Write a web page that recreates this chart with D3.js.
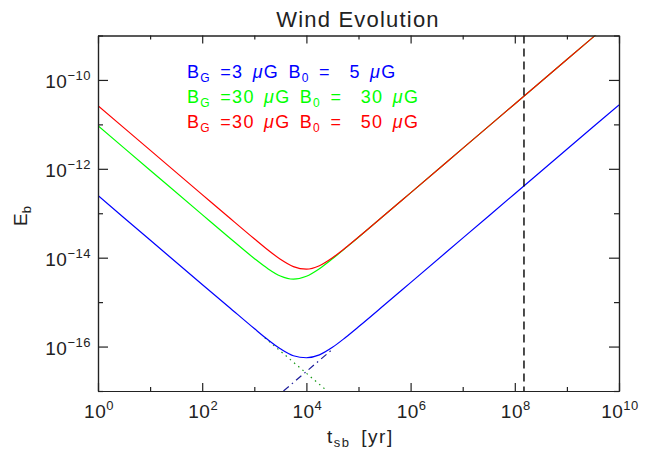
<!DOCTYPE html>
<html>
<head>
<meta charset="utf-8">
<script src="https://cdn.jsdelivr.net/npm/d3@7"></script>
<style>
  body { margin: 0; background: #fff; }
  text { font-family: "Liberation Sans", Arial, sans-serif; }
</style>
</head>
<body>
<div id="plot"></div>
<script>
// Chart size and plot frame
const width = 649, height = 450;
const margin = { top: 35.5, bottom: 59, left: 98, right: 30 };

// Data (t in years, E_b)
const tYears = [1, 10, 100, 316, 1000, 1778, 3162, 5623, 1e4, 17783, 31623, 56234, 1e5, 316228, 1e6, 1e7, 1e8, 1e9, 1e10];
const blueE  = [2.5e-13, 2.5e-14, 2.5e-15, 8.0e-16, 2.54e-16, 1.46e-16, 8.9e-17, 6.2e-17, 5.6e-17, 6.5e-17, 9.6e-17, 1.6e-16, 2.78e-16, 8.7e-16, 2.75e-15, 2.75e-14, 2.75e-13, 2.75e-12, 2.75e-11];
const greenE = [9.3e-12, 9.3e-13, 9.3e-14, 2.96e-14, 9.6e-15, 5.76e-15, 3.86e-15, 3.28e-15, 3.82e-15, 5.65e-15, 9.42e-15, 1.64e-14, 2.89e-14, 9.1e-14, 2.88e-13, 2.88e-12, 2.88e-11, 2.88e-10, 2.88e-9];
const redE   = [2.63e-11, 2.63e-12, 2.63e-13, 8.33e-14, 2.66e-14, 1.53e-14, 9.23e-15, 6.3e-15, 5.51e-15, 6.61e-15, 9.95e-15, 1.67e-14, 2.91e-14, 9.12e-14, 2.88e-13, 2.88e-12, 2.88e-11, 2.88e-10, 2.88e-9];

// Asymptote tails below the blue minimum
const descTailT = [1585, 25119], descTailE = [1.58e-16, 1e-17];
const riseTailT = [3631, 31623], riseTailE = [1e-17, 8.7e-17];

// Vertical marker
const markerT = [1.5e8];

// Axis ticks
const xMajor = [1, 1e2, 1e4, 1e6, 1e8, 1e10];
const xMajorExp = ['0', '2', '4', '6', '8', '10'];
const xMinor = [10, 1e3, 1e5, 1e7, 1e9];
const yMajor = [1e-10, 1e-12, 1e-14, 1e-16];
const yMajorExp = ['\u221210', '\u221212', '\u221214', '\u221216'];
const yMinor = [1e-9, 1e-11, 1e-13, 1e-15, 1e-17];

const series = [
  { name: 'blue', values: blueE, color: '#0000ff' },
  { name: 'green', values: greenE, color: '#00ff00' },
  { name: 'red', values: redE, color: '#ff0000' }
];

const legend = [
  { color: '#0000ff', g: '3', b0: '5' },
  { color: '#00ff00', g: '30', b0: '30' },
  { color: '#ff0000', g: '30', b0: '50' }
];

const svg = d3.select('#plot')
  .append('svg')
  .attr('width', width)
  .attr('height', height)
  .style('background', '#fff');

// Scales
const x = d3.scaleLog()
  .domain([1, 1e10])
  .range([margin.left, width - margin.right]);

const y = d3.scaleLog()
  .domain([1e-17, 1e-9])
  .range([height - margin.bottom, margin.top]);

// Clip to the plot frame
svg.append('clipPath').attr('id', 'clip')
  .append('rect')
  .attr('x', margin.left)
  .attr('y', margin.top)
  .attr('width', width - margin.left - margin.right)
  .attr('height', height - margin.top - margin.bottom);

const plot = svg.append('g').attr('clip-path', 'url(#clip)');

const line = d3.line()
  .x(d => x(d[0]))
  .y(d => y(d[1]))
  .curve(d3.curveMonotoneX);

// Tails
plot.append('path')
  .datum(descTailT.map((t, i) => [t, descTailE[i]]))
  .attr('d', d3.line().x(d => x(d[0])).y(d => y(d[1])))
  .attr('fill', 'none')
  .attr('stroke', '#1a9a1a')
  .attr('stroke-width', 1.2)
  .attr('stroke-dasharray', '1.5,4');

plot.append('path')
  .datum(riseTailT.map((t, i) => [t, riseTailE[i]]))
  .attr('d', d3.line().x(d => x(d[0])).y(d => y(d[1])))
  .attr('fill', 'none')
  .attr('stroke', '#1a1a9a')
  .attr('stroke-width', 1.2)
  .attr('stroke-dasharray', '7,4,1.5,4');

// Curves
plot.selectAll('.curve')
  .data(series)
  .join('path')
  .attr('class', 'curve')
  .attr('d', s => line(tYears.map((t, i) => [t, s.values[i]])))
  .attr('fill', 'none')
  .attr('stroke', s => s.color)
  .attr('stroke-width', 1.2);

// Dashed marker line
plot.selectAll('.marker')
  .data(markerT)
  .join('line')
  .attr('class', 'marker')
  .attr('x1', d => x(d)).attr('x2', d => x(d))
  .attr('y1', margin.top).attr('y2', height - margin.bottom)
  .attr('stroke', '#000')
  .attr('stroke-width', 1.4)
  .attr('stroke-dasharray', '8,5');

// Axes with inward ticks
const axisColor = '#222';
function styleAxis(g) {
  g.selectAll('path,line').attr('stroke', axisColor).attr('stroke-width', 1.2);
  g.selectAll('text').remove();
}

const yb = height - margin.bottom, yt = margin.top;
const xl = margin.left, xr = width - margin.right;

svg.append('g').attr('transform', `translate(0,${yb})`)
  .call(d3.axisBottom(x).tickValues(xMajor).tickSize(-8).tickSizeOuter(0)).call(styleAxis);
svg.append('g').attr('transform', `translate(0,${yb})`)
  .call(d3.axisBottom(x).tickValues(xMinor).tickSize(-4).tickSizeOuter(0)).call(styleAxis);
svg.append('g').attr('transform', `translate(0,${yt})`)
  .call(d3.axisTop(x).tickValues(xMajor).tickSize(-8).tickSizeOuter(0)).call(styleAxis);
svg.append('g').attr('transform', `translate(0,${yt})`)
  .call(d3.axisTop(x).tickValues(xMinor).tickSize(-4).tickSizeOuter(0)).call(styleAxis);
svg.append('g').attr('transform', `translate(${xl},0)`)
  .call(d3.axisLeft(y).tickValues(yMajor).tickSize(-10).tickSizeOuter(0)).call(styleAxis);
svg.append('g').attr('transform', `translate(${xl},0)`)
  .call(d3.axisLeft(y).tickValues(yMinor).tickSize(-5).tickSizeOuter(0)).call(styleAxis);
svg.append('g').attr('transform', `translate(${xr},0)`)
  .call(d3.axisRight(y).tickValues(yMajor).tickSize(-10).tickSizeOuter(0)).call(styleAxis);
svg.append('g').attr('transform', `translate(${xr},0)`)
  .call(d3.axisRight(y).tickValues(yMinor).tickSize(-5).tickSizeOuter(0)).call(styleAxis);

// Tick labels
const xLab = svg.append('g').selectAll('text')
  .data(xMajor)
  .join('text')
  .attr('x', d => x(d) + 1)
  .attr('y', yb + 27)
  .attr('text-anchor', 'middle')
  .style('font-size', '19px')
  .style('letter-spacing', '0.5px')
  .attr('fill', '#222');
xLab.append('tspan').text('10');
xLab.append('tspan').attr('dy', -8).style('font-size', '13px').text((d, i) => xMajorExp[i]);

const yLab = svg.append('g').selectAll('text')
  .data(yMajor)
  .join('text')
  .attr('x', 91)
  .attr('y', d => y(d) + 8)
  .attr('text-anchor', 'end')
  .style('font-size', '19px')
  .style('letter-spacing', '0.5px')
  .attr('fill', '#222');
yLab.append('tspan').text('10');
yLab.append('tspan').attr('dy', -8).style('font-size', '13px').text((d, i) => yMajorExp[i]);

// Title
svg.append('text')
  .attr('x', 358)
  .attr('y', 26.5)
  .attr('text-anchor', 'middle')
  .style('font-size', '22px')
  .style('letter-spacing', '1.2px')
  .attr('fill', '#222')
  .text('Wind Evolution');

// X label
const xt = svg.append('text')
  .attr('x', 327)
  .attr('y', 443)
  .style('font-size', '19px')
  .style('letter-spacing', '1.5px')
  .style('word-spacing', '4px')
  .attr('fill', '#222');
xt.append('tspan').text('t');
xt.append('tspan').attr('dy', 4).style('font-size', '13px').text('sb');
xt.append('tspan').attr('dy', -4).text(' [yr]');

// Y label
const ytl = svg.append('text')
  .attr('transform', 'translate(27,226) rotate(-90)')
  .style('font-size', '19px')
  .attr('fill', '#222');
ytl.append('tspan').text('E');
ytl.append('tspan').attr('dy', 4).style('font-size', '13px').text('b');

// Legend
const leg = svg.append('g').selectAll('text')
  .data(legend)
  .join('text')
  .attr('x', 187)
  .attr('y', (d, i) => 78 + i * 25)
  .style('font-size', '18px')
  .style('letter-spacing', '1.3px')
  .style('word-spacing', '3px')
  .attr('fill', d => d.color);
leg.append('tspan').text('B');
leg.append('tspan').attr('dy', 4).style('font-size', '12px').text('G');
leg.append('tspan').attr('dy', -4).text(d => '\u00a0=' + d.g + ' ');
leg.append('tspan').style('font-style', 'italic').text('\u03bc');
leg.append('tspan').text('G B');
leg.append('tspan').attr('dy', 4).style('font-size', '12px').text('0');
leg.append('tspan').attr('dy', -4).text(d => '\u00a0= \u00a0' + d.b0 + ' ');
leg.append('tspan').style('font-style', 'italic').text('\u03bc');
leg.append('tspan').text('G');
</script>
</body>
</html>
